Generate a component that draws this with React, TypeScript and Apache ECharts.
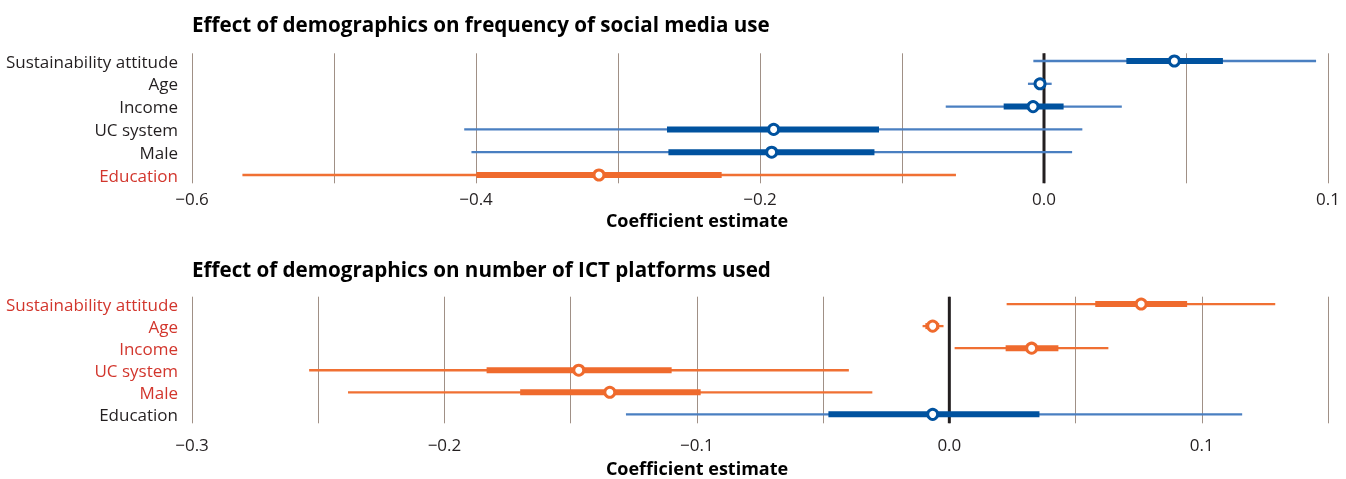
import React, { useEffect, useRef } from "react";
import * as echarts from "echarts";

// ---------- data ----------
const categories = ["Sustainability attitude", "Age", "Income", "UC system", "Male", "Education"];

// Panel 1: frequency of social media use (coefficient estimates)
const topEstimate = [0.0459, -0.0028, -0.0077, -0.1904, -0.1918, -0.3134];
const topInnerLo = [0.029, -0.006, -0.0284, -0.2655, -0.2645, -0.3997];
const topInnerHi = [0.063, 0.0005, 0.0069, -0.1162, -0.1194, -0.227];
const topOuterLo = [-0.0075, -0.0113, -0.0692, -0.4083, -0.4032, -0.5645];
const topOuterHi = [0.0958, 0.0027, 0.0274, 0.0135, 0.0099, -0.062];
const topGroup = ["blue", "blue", "blue", "blue", "blue", "orange"];
const topTickLabels = ["\u22120.6", "", "\u22120.4", "", "\u22120.2", "", "0.0", "", "0.1"];

// Panel 2: number of ICT platforms used
const botEstimate = [0.076, -0.0066, 0.0326, -0.1468, -0.1345, -0.0066];
const botInnerLo = [0.0578, -0.0095, 0.0223, -0.1833, -0.17, -0.0479];
const botInnerHi = [0.0942, -0.004, 0.0432, -0.11, -0.0985, 0.0357];
const botOuterLo = [0.0227, -0.0106, 0.0021, -0.2536, -0.2382, -0.1281];
const botOuterHi = [0.1291, -0.0023, 0.063, -0.0398, -0.0305, 0.116];
const botGroup = ["orange", "orange", "orange", "orange", "orange", "blue"];
const botTickLabels = ["\u22120.3", "", "\u22120.2", "", "\u22120.1", "", "0.0", "", "0.1", ""];

const titleTop = "Effect of demographics on frequency of social media use";
const titleBot = "Effect of demographics on number of ICT platforms used";
const axisTitle = "Coefficient estimate";

// ---------- styles ----------
const FONT = "Open Sans";
const TEXT = "#231f20";
const RED = "#d2362d";
const GRID = "#a09086";
const COLORS: Record<string, { thin: string; thick: string }> = {
  blue: { thin: "#4a7fc1", thick: "#00529f" },
  orange: { thin: "#f07033", thick: "#ef6a2d" },
};

// The upper panel's printed axis is stretched by 2x on the positive side
const topScale = (v: number) => (v < 0 ? v : v * 2);
const botScale = (v: number) => v;

function buildRows(
  lo: number[], iLo: number[], est: number[], iHi: number[], hi: number[],
  group: string[], f: (v: number) => number
) {
  return categories.map((_, i) => [f(lo[i]), f(iLo[i]), f(est[i]), f(iHi[i]), f(hi[i]), i, group[i] === "blue" ? 0 : 1]);
}

function renderItem(params: any, api: any) {
  const row = api.value(5);
  const g = api.value(6) === 0 ? COLORS.blue : COLORS.orange;
  const p = (i: number) => api.coord([api.value(i), row]);
  const a = p(0), b = p(1), c = p(2), d = p(3), e = p(4);
  const y = c[1];
  return {
    type: "group",
    children: [
      { type: "line", shape: { x1: a[0], y1: y, x2: e[0], y2: y }, style: { stroke: g.thin, lineWidth: 2.3 } },
      { type: "line", shape: { x1: b[0], y1: y, x2: d[0], y2: y }, style: { stroke: g.thick, lineWidth: 6 } },
      { type: "circle", shape: { cx: c[0], cy: y, r: 5 }, style: { fill: "#ffffff", stroke: g.thick, lineWidth: 3 } },
    ],
  };
}

export default function App() {
  const ref = useRef<HTMLDivElement>(null);
  useEffect(() => {
    if (!ref.current) return;
    const chart = echarts.init(ref.current, undefined, { renderer: "svg" });
    const LEFT = 192;
    const RIGHT = 1346 - 1328;
    const labelColorTop = (_v: any, i: number) => (topGroup[i] === "orange" ? RED : TEXT);
    const labelColorBot = (_v: any, i: number) => (botGroup[i] === "orange" ? RED : TEXT);
    const hiddenX = (min: number, max: number, gi: number) => ({
      type: "value", gridIndex: gi, min, max, show: false,
      splitLine: { show: false },
    });
    const visibleX = (min: number, max: number, interval: number, gi: number, labels: string[], margin: number) => ({
      type: "value", gridIndex: gi, min, max, interval,
      axisLine: { show: false }, axisTick: { show: false },
      splitLine: { show: true, lineStyle: { color: GRID, width: 1 } },
      axisLabel: {
        formatter: (_v: number, idx: number) => labels[idx] ?? "",
        color: TEXT, fontFamily: FONT, fontSize: 17, margin, showMinLabel: true, showMaxLabel: true,
      },
    });
    const catY = (gi: number, colorFn: any) => ({
      type: "category", gridIndex: gi, data: categories, inverse: true,
      axisLine: { show: false }, axisTick: { show: false }, splitLine: { show: false },
      axisLabel: { color: colorFn, fontFamily: FONT, fontSize: 17, margin: 14, interval: 0 },
    });
    const option: any = {
      animation: false,
      textStyle: { fontFamily: FONT },
      grid: [
        { left: LEFT, right: RIGHT, top: 53.3, height: 130 },
        { left: LEFT, right: RIGHT, top: 49.6, height: 136.8 },
        { left: LEFT, right: RIGHT, top: 296.7, height: 126.6 },
        { left: LEFT, right: RIGHT, top: 293, height: 132.4 },
      ],
      xAxis: [
        visibleX(-0.6, 0.2, 0.1, 0, topTickLabels, 7),
        hiddenX(-0.6, 0.2, 1),
        visibleX(-0.3, 0.15, 0.05, 2, botTickLabels, 13),
        hiddenX(-0.3, 0.15, 3),
      ],
      yAxis: [
        { type: "value", gridIndex: 0, min: 0, max: 1, show: false, splitLine: { show: false } },
        catY(1, labelColorTop),
        { type: "value", gridIndex: 2, min: 0, max: 1, show: false, splitLine: { show: false } },
        catY(3, labelColorBot),
      ],
      graphic: [
        { type: "text", x: 192, y: 24, style: { text: titleTop, fontFamily: FONT, fontWeight: "bold", fontSize: 20.6, fill: "#000", textAlign: "left", textVerticalAlign: "middle" } },
        { type: "text", x: 192, y: 269, style: { text: titleBot, fontFamily: FONT, fontWeight: "bold", fontSize: 20.6, fill: "#000", textAlign: "left", textVerticalAlign: "middle" } },
        { type: "text", x: 697, y: 220, style: { text: axisTitle, fontFamily: FONT, fontWeight: "bold", fontSize: 18, fill: "#000", textAlign: "center", textVerticalAlign: "middle" } },
        { type: "text", x: 697, y: 468, style: { text: axisTitle, fontFamily: FONT, fontWeight: "bold", fontSize: 18, fill: "#000", textAlign: "center", textVerticalAlign: "middle" } },
      ],
      series: [
        {
          type: "line", xAxisIndex: 0, yAxisIndex: 0, data: [[0, 0], [0, 1]], symbol: "none",
          lineStyle: { color: TEXT, width: 3 }, z: 1, silent: true,
        },
        {
          type: "line", xAxisIndex: 2, yAxisIndex: 2, data: [[0, 0], [0, 1]], symbol: "none",
          lineStyle: { color: TEXT, width: 3 }, z: 1, silent: true,
        },
        {
          type: "custom", xAxisIndex: 1, yAxisIndex: 1, renderItem, z: 3,
          data: buildRows(topOuterLo, topInnerLo, topEstimate, topInnerHi, topOuterHi, topGroup, topScale),
        },
        {
          type: "custom", xAxisIndex: 3, yAxisIndex: 3, renderItem, z: 3,
          data: buildRows(botOuterLo, botInnerLo, botEstimate, botInnerHi, botOuterHi, botGroup, botScale),
        },
      ],
    };
    chart.setOption(option);
    return () => chart.dispose();
  }, []);
  return <div ref={ref} style={{ position: "fixed", left: 0, top: 0, width: 1346, height: 479 }} />;
}
